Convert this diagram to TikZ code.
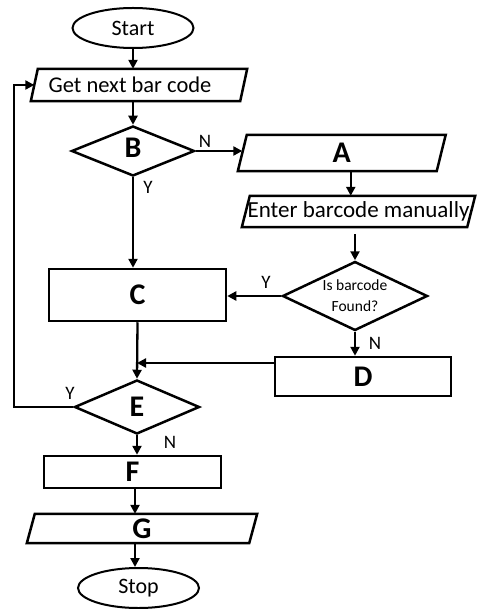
\documentclass[tikz,border=0pt]{standalone}
\usepackage{fontspec}
\setmainfont{Carlito}
\usetikzlibrary{shapes.geometric,arrows.meta}
\begin{document}
\begin{tikzpicture}[x=1pt,y=-1pt,
  line/.style={line width=2.5pt},
  arr/.style={line width=2.3pt,-{Triangle[length=9pt,width=9pt]}},
  term/.style={ellipse,draw,line width=2pt,inner sep=0pt,font=\fontsize{22}{26}\selectfont},
  bigtxt/.style={font=\fontsize{30}{34}\selectfont\bfseries},
  box/.style={rectangle,draw,line width=2.5pt,inner sep=0pt,bigtxt},
  pbox/.style={rectangle,inner sep=0pt},
  dec/.style={diamond,draw,line width=2.5pt,inner sep=0pt,bigtxt},
  lab/.style={inner sep=0pt,font=\fontsize{19}{22}\selectfont}]
\useasboundingbox (0,0) rectangle (480,609);
% nodes
\node[term,minimum width=121,minimum height=40] (start) at (133,28) {Start};
\node[pbox,minimum width=209,minimum height=32,font=\fontsize{22.5}{26}\selectfont] (get) at (139,85) {\hspace*{-18pt}Get next bar code};
\draw[line] ([xshift=3.5]get.north west) -- ([xshift=3.5]get.north east) -- ([xshift=-3.5]get.south east) -- ([xshift=-3.5]get.south west) -- cycle;
\node[dec,minimum width=123,minimum height=50] (B) at (133,151) {\raisebox{6pt}{B}};
\node[pbox,minimum width=198.5,minimum height=36,bigtxt] (A) at (341.75,153) {\raisebox{-2pt}{A}};
\draw[line] ([xshift=4.5]A.north west) -- ([xshift=4.5]A.north east) -- ([xshift=-4.5]A.south east) -- ([xshift=-4.5]A.south west) -- cycle;
\node[pbox,minimum width=225,minimum height=31,font=\fontsize{23}{26}\selectfont] (enter) at (358.5,211.5) {Enter barcode manually};
\draw[line] ([xshift=4]enter.north west) -- ([xshift=4]enter.north east) -- ([xshift=-4]enter.south east) -- ([xshift=-4]enter.south west) -- cycle;
\node[diamond,draw,line width=2.5pt,inner sep=0pt,minimum width=145,minimum height=69] (found) at (355,296) {};
\node[inner sep=0pt,align=center,font=\fontsize{15.5}{21}\selectfont] (foundtxt) at (355,295.5) {Is barcode\\Found?};
\node[box,minimum width=177,minimum height=52] (C) at (137.5,295) {\raisebox{-4pt}{C}};
\node[box,minimum width=176,minimum height=39] (D) at (363,376.5) {D};
\node[dec,minimum width=125,minimum height=54] (E) at (137,407) {E};
\node[box,minimum width=177,minimum height=32] (F) at (132.5,472) {F};
\node[pbox,minimum width=222,minimum height=29,bigtxt] (G) at (142,528.5) {G};
\draw[line] ([xshift=4]G.north west) -- ([xshift=4]G.north east) -- ([xshift=-4]G.south east) -- ([xshift=-4]G.south west) -- cycle;
\node[term,minimum width=121,minimum height=40] (stop) at (138.5,588) {Stop};
\coordinate (loopx) at (14,85);
% labels
\node[lab] (lN1) at (205,141) {N};
\node[lab] (lY1) at (148,187) {Y};
\node[lab] (lY2) at (266,282) {Y};
\node[lab] (lN2) at (375,343) {N};
\node[lab] (lY3) at (70,393) {Y};
\node[lab] (lN3) at (170,442) {N};
% connectors
\draw[arr] (start.south) -- (start.south |- get.north);
\draw[arr] (B.north |- get.south) -- (B.north);
\draw[arr] (B.east) -- (B.east -| A.west);
\draw[arr] ([xshift=9]A.south) -- ([xshift=9]A.south |- enter.north);
\draw[arr,shorten <=7pt] (found.north |- enter.south) -- (found.north);
\draw[arr] (found.west) -- (found.west -| C.east);
\draw[arr] (B.south) -- (B.south |- C.north);
\draw[arr] (found.south) -- (found.south |- D.north);
\draw[arr] (C.south) -- (E.north);
\draw[arr] ([yshift=13.5]D.west) -- ([yshift=13.5]D.west -| E.north);
\draw[arr] (E.west) -| (loopx) -- (get.west);
\draw[arr] (E.south) -- (E.south |- F.north);
\draw[arr] ([xshift=2.5]F.south) -- ([xshift=2.5]F.south |- G.north);
\draw[arr] ([xshift=2.5]F.south |- G.south) -- ([xshift=2.5]F.south |- stop.north);
\end{tikzpicture}
\end{document}
